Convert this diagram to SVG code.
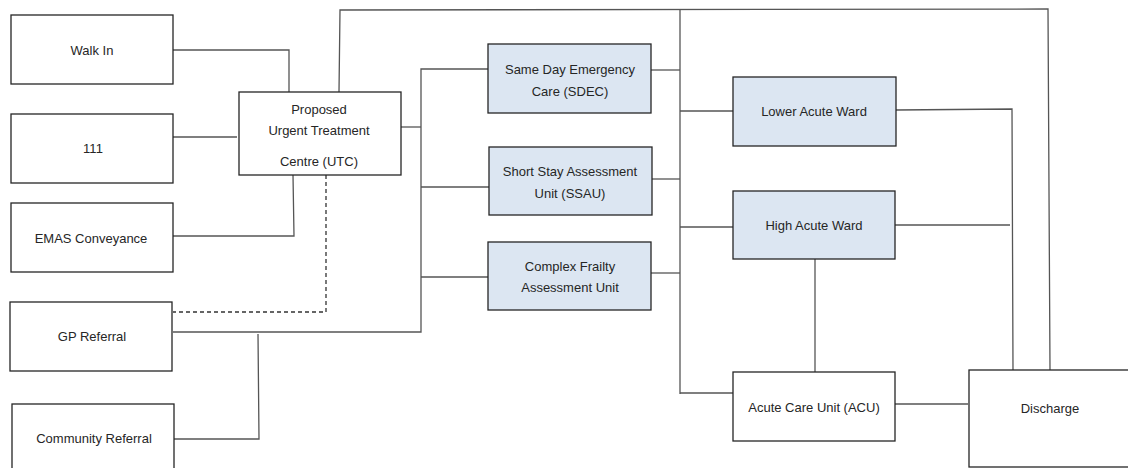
<svg xmlns="http://www.w3.org/2000/svg" width="1128" height="468" viewBox="0 0 1128 468">
<style>
.box{fill:#ffffff;stroke:#262626;stroke-width:1.3}
.blue{fill:#dce6f2;stroke:#262626;stroke-width:1.3}
.t{font-family:"Liberation Sans",Arial,sans-serif;font-size:13px;fill:#262626;text-anchor:middle}
.c{fill:none;stroke:#555555;stroke-width:1.3}
.d{fill:none;stroke:#333333;stroke-width:1.3;stroke-dasharray:4,3}
</style>
<rect width="1128" height="468" fill="#ffffff"/>
<g id="connectors">
<polyline class="c" points="173,50 289,50 289,92"/>
<line class="c" x1="173" y1="137" x2="237" y2="137"/>
<polyline class="c" points="293,175 294,236 173,236"/>
<polyline class="d" points="326,175 326,312 173,312"/>
<polyline class="c" points="173,332 421,332 421,69 488,69"/>
<line class="c" x1="421" y1="187" x2="489" y2="187"/>
<line class="c" x1="421" y1="277" x2="488" y2="277"/>
<line class="c" x1="401" y1="127" x2="421" y2="127"/>
<polyline class="c" points="174,439 259,439 258,334"/>
<polyline class="c" points="339,92 340,10 1048,9 1050,370"/>
<line class="c" x1="680" y1="10" x2="680" y2="394"/>
<line class="c" x1="651" y1="70" x2="680" y2="70"/>
<line class="c" x1="652" y1="179" x2="680" y2="179"/>
<line class="c" x1="651" y1="273" x2="680" y2="273"/>
<line class="c" x1="680" y1="111" x2="733" y2="111"/>
<line class="c" x1="680" y1="227" x2="733" y2="227"/>
<line class="c" x1="680" y1="393" x2="733" y2="393"/>
<polyline class="c" points="896,110 1012,109 1013,370"/>
<line class="c" x1="895" y1="225" x2="1010" y2="225"/>
<line class="c" x1="815" y1="259" x2="815" y2="372"/>
<line class="c" x1="895" y1="404" x2="968" y2="404"/>
</g>
<g id="walk-in"><rect class="box" x="11" y="15" width="162" height="69"/><text class="t" x="92" y="55">Walk In</text></g>
<g id="n111"><rect class="box" x="11" y="114" width="162" height="69"/><text class="t" x="93" y="153">111</text></g>
<g id="emas"><rect class="box" x="11" y="203" width="162" height="69"/><text class="t" x="91" y="243">EMAS Conveyance</text></g>
<g id="gp"><rect class="box" x="10" y="302" width="162" height="69"/><text class="t" x="92" y="341">GP Referral</text></g>
<g id="community"><rect class="box" x="12" y="404" width="162" height="70"/><text class="t" x="94" y="443">Community Referral</text></g>
<g id="utc"><rect class="box" x="239" y="92" width="162" height="83"/>
<text class="t" x="319" y="114">Proposed</text>
<text class="t" x="319" y="135">Urgent Treatment</text>
<text class="t" x="319" y="166">Centre (UTC)</text></g>
<g id="sdec"><rect class="blue" x="488" y="44" width="163" height="69"/>
<text class="t" x="570" y="74">Same Day Emergency</text>
<text class="t" x="570" y="96">Care (SDEC)</text></g>
<g id="ssau"><rect class="blue" x="489" y="147" width="163" height="68"/>
<text class="t" x="570" y="176">Short Stay Assessment</text>
<text class="t" x="570" y="198">Unit (SSAU)</text></g>
<g id="cfau"><rect class="blue" x="488" y="242" width="163" height="68"/>
<text class="t" x="570" y="271">Complex Frailty</text>
<text class="t" x="570" y="292">Assessment Unit</text></g>
<g id="lower-acute"><rect class="blue" x="733" y="77" width="163" height="69"/><text class="t" x="814" y="116">Lower Acute Ward</text></g>
<g id="high-acute"><rect class="blue" x="733" y="191" width="162" height="68"/><text class="t" x="814" y="230">High Acute Ward</text></g>
<g id="acu"><rect class="box" x="733" y="372" width="162" height="69"/><text class="t" x="814" y="412">Acute Care Unit (ACU)</text></g>
<g id="discharge"><rect class="box" x="969" y="370" width="170" height="97"/><text class="t" x="1050" y="413">Discharge</text></g>
</svg>
